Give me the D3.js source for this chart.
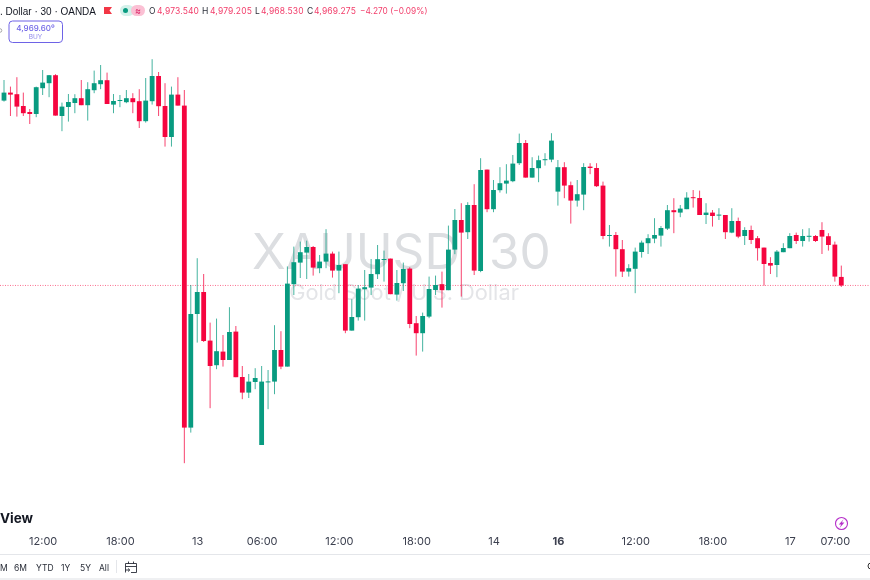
<!DOCTYPE html>
<html><head><meta charset="utf-8">
<style>html,body{margin:0;padding:0;background:#fff}svg{display:block;font-family:Inter,"Noto Sans",sans-serif}</style>
<script src="https://cdn.jsdelivr.net/npm/d3@7/dist/d3.min.js"></script></head><body>
<svg id="c" width="870" height="580"></svg>
<script>
const opens=[5061.7,5065.7,5064.9,5059,5056,5055,5067.9,5070.4,5074.4,5054,5058.5,5060.5,5062.9,5059.4,5066.9,5069.9,5071.9,5059.7,5061.5,5060.9,5062.9,5061.4,5051.4,5061.4,5074,5059,5043.5,5064.7,5059.2,4898.2,4955,4966,4941.7,4929.4,4936.2,4932,4946.2,4923.5,4915.7,4921,4889.5,4921,4921.2,4937,4928.7,4969.9,4980.7,4985.7,4988.5,4977.9,4981.2,4985.2,4976.7,4979.9,4946.7,4953.4,4967.4,4968.2,4974.9,4982.3,4982.7,4964.7,4970.4,4977.7,4950.4,4945.4,4953.7,4967,4969.9,4966.9,4987.2,5002,4995.9,5009.5,4976.5,5027.2,5007.4,5016.9,5020.2,5021.4,5030.4,5040.5,5023.2,5027.9,5031.9,5032.2,5016.2,5028.4,5019.4,5011.7,5014.7,5028.7,5028,5019.2,4994.3,4994.5,4987.4,4976.2,4977.6,4986,4990.4,4992.7,4994.2,4997.7,5006.9,5005.7,5007.4,5013.4,5013,5004.5,5005.7,5004.5,5004.5,4995.7,5001.5,4994,4997,4992.9,4988.2,4980.5,4979.5,4985.9,4987.9,4994.5,4991.5,4993.9,4994,4997,4993.9,4989.7,4973.54];
const highs=[5072,5068.7,5073.4,5065.7,5057.5,5068.7,5077,5074.5,5074.9,5060.7,5065,5064.9,5072,5070.9,5076.7,5079.5,5075.7,5065,5064.5,5067,5065.4,5067.4,5073,5082.4,5076,5070.4,5068.7,5073.4,5067,4969.5,4982.9,4975,4950.7,4952.7,4944.5,4958.4,4949,4929,4925,4927.9,4929,4927,4949.4,4946.4,4978.8,4988.7,4991.2,4991.7,4989,4984.5,4997.4,4986.2,4986.2,4979.9,4962.4,4969.5,4977,4982.5,4989.5,4986.7,4982.7,4977,4980.7,4978.4,4954,4955.7,4973.7,4974.2,4976.2,4999.2,5007.5,5010.4,5010.9,5019.9,5032.9,5027.2,5022,5028.4,5029.9,5034.5,5045.2,5042,5033.4,5034.2,5035.4,5045.4,5032,5030.9,5021.2,5022,5030.4,5030.4,5030.4,5021.2,4999.5,4996,4992,4979.9,4988.2,4991.7,4994.9,5002.9,4999,5009.5,5012.9,5009.5,5015.9,5017,5016.7,5010.4,5007,5007.9,5004.5,5007.9,5003.2,4998.4,4999.2,4994,4988.2,4983.4,4987,4990.4,4995.4,4995.7,4997.4,4997.9,4994.5,5000.9,4995.4,4991.2,4979.205];
const lows=[5061.2,5054,5053.7,5054,5050,5053.4,5064.5,5063.4,5054.2,5046.4,5051.2,5055.4,5059.4,5051.7,5065.4,5067.4,5060,5055.4,5058.4,5060.4,5055.4,5048,5050.7,5059.7,5054,5038.7,5038.7,5059.2,4880.4,4895.7,4940.7,4941,4907.9,4927.4,4928.7,4932,4923.4,4912.4,4913,4917.4,4889.5,4907.4,4914.9,4927.4,4928.7,4964.5,4973,4972.5,4974.2,4975.4,4977.9,4973.2,4965.4,4945.4,4946.7,4951.7,4951.7,4964.5,4972.5,4971.2,4964.9,4961.7,4966.5,4947.9,4934.2,4936.2,4952.9,4964.5,4958.2,4966.9,4984.9,4963.7,4992.5,4974.5,4975.9,5005.9,5005.9,5015.7,5015.2,5020.9,5029.5,5023.2,5023.2,5020.9,5029.2,5030.9,5009.2,5012.9,5000.2,5008.7,5006.9,5024.9,5018.5,4992.4,4988.7,4973.7,4973.5,4973.7,4965.4,4983.2,4985,4990.4,4988.7,4997,4995.4,5003.4,5007.4,5008.2,5004.5,5000,4998.7,5002,4992.5,4995.4,4992.9,4989.5,4990,4981.7,4969.2,4975,4973.4,4985.9,4987.9,4990,4988.7,4991.2,4991,4985,4986.7,4971.2,4968.53];
const closes=[5065.7,5064.7,5058.7,5055.4,5055,5068.4,5070.7,5074.4,5054.2,5058.7,5061,5062.9,5059.4,5067.4,5070.4,5071.9,5060,5061.5,5062,5062.9,5060.9,5051.4,5061.7,5074,5058.9,5043.5,5064.7,5059.2,4898.2,4955,4966,4941.5,4929,4936.4,4932,4946,4923.4,4915.7,4921.2,4923,4921.2,4921.3,4937,4928.7,4970.2,4980.9,4985.9,4988.5,4978.2,4981.2,4985.2,4976.7,4979.5,4946.7,4953.5,4967.7,4968.4,4975,4982.4,4982.5,4964.9,4970.5,4977.5,4950,4945.4,4954,4967.5,4969.5,4966.9,4987.2,5002,4995.7,5009.5,4976.7,5027,5007.4,5017,5020.4,5021.7,5030.2,5040.5,5023.2,5028,5031.9,5032.4,5041.7,5028.4,5019.2,5011.7,5014.9,5028.5,5028,5018.9,4994,4994.5,4987.4,4976.2,4977.9,4986.2,4990.7,4992.9,4994.5,4998,5006.9,5005.9,5007.7,5013.2,5013,5004.5,5005.7,5004,5004.7,4995.9,5001.5,4993.7,4997,4992,4987.9,4980,4979.2,4986.2,4988,4994,4991.5,4994,4994.1,4991.5,4993.7,4989.5,4973.7,4969.275];
const tickIndex=[6,18,30,40,52,64,76,86,98,110,122,129];
const tickLabels=["12:00","18:00","13","06:00","12:00","18:00","14","16","12:00","18:00","17","07:00"];
const rangeLabels=["M","6M","YTD","1Y","5Y","All"];
const ohlcKeys=["O","H","L","C"];
const ohlcValues=["4,973.540","4,979.205","4,968.530","4,969.275"];

const GREEN="#089b80",RED="#f5053f";
const svg=d3.select("#c");
const x=d3.scaleLinear().domain([0,130]).range([4,841.3]);
const y=d3.scaleLinear().domain([5112,4822]).range([0,580]);
const last=closes[closes.length-1];

// watermark
svg.append("text").attr("x",252).attr("y",269).attr("font-size",49.5).attr("word-spacing",15).attr("fill","#dcdee1").attr("font-family","Inter,sans-serif").text("XAUUSD 30");
svg.append("text").attr("x",404).attr("y",300).attr("text-anchor","middle").attr("font-size",21.8).attr("fill","#e4e5e8").attr("font-family","Inter,sans-serif").text("Gold Spot / U.S. Dollar");

// last price line
svg.append("line").attr("x1",0).attr("x2",870).attr("y1",y(last)).attr("y2",y(last)).attr("stroke","#fb6f8e").attr("stroke-width",1).attr("stroke-dasharray","1 1.5");

// candles
const idx=d3.range(opens.length);
const g=svg.append("g");
g.selectAll("line.w").data(idx).join("line").attr("class","w")
 .attr("x1",i=>x(i)).attr("x2",i=>x(i)).attr("y1",i=>y(highs[i])).attr("y2",i=>y(lows[i]))
 .attr("stroke",i=>closes[i]>=opens[i]?GREEN:RED).attr("stroke-width",1).attr("opacity",.75);
g.selectAll("rect.b").data(idx).join("rect").attr("class","b")
 .attr("x",i=>x(i)-2.4).attr("width",4.8)
 .attr("y",i=>Math.min(y(opens[i]),y(closes[i])))
 .attr("height",i=>Math.max(1,Math.abs(y(opens[i])-y(closes[i]))))
 .attr("fill",i=>closes[i]>=opens[i]?GREEN:RED);

// header
svg.append("text").attr("x",0).attr("y",15).attr("font-size",11.5).attr("textLength",96).attr("lengthAdjust","spacingAndGlyphs").attr("fill","#131722").attr("font-family","Liberation Sans,sans-serif").text(". Dollar · 30 · OANDA");
svg.append("path").attr("d","M104 7H112L109.5 10.5L112 14H104Z").attr("fill","#f23645");
svg.append("rect").attr("x",120).attr("y",5).attr("width",14).attr("height",11).attr("rx",5.5).attr("fill","#d3f1ea");
svg.append("rect").attr("x",131).attr("y",5).attr("width",14).attr("height",11).attr("rx",5.5).attr("fill","#fbc0d4");
svg.append("circle").attr("cx",125.5).attr("cy",10.5).attr("r",2.5).attr("fill",GREEN);
svg.append("text").attr("x",138).attr("y",14).attr("text-anchor","middle").attr("font-size",9).attr("fill","#d81b60").text("≈");
const ohlcX=[149,202,255,307],valX=[157,210,261,314];
ohlcKeys.forEach((k,i)=>{
 svg.append("text").attr("x",ohlcX[i]).attr("y",14).attr("font-size",8.5).attr("fill","#2a2e39").text(k);
 svg.append("text").attr("x",valX[i]).attr("y",14).attr("font-size",8.5).attr("letter-spacing",.15).attr("fill","#f23d6a").text(ohlcValues[i]);
});
svg.append("text").attr("x",360).attr("y",14).attr("font-size",8.3).attr("fill","#f23d6a").text("−4.270 (−0.09%)");

// buy button
svg.append("rect").attr("x",9).attr("y",21).attr("width",53.5).attr("height",21.5).attr("rx",3.5).attr("fill","#fff").attr("stroke","#6e63e6").attr("stroke-width",1);
svg.append("text").attr("x",35.5).attr("y",30.5).attr("text-anchor","middle").attr("font-size",8).attr("font-weight",500).attr("fill","#6e63e6").text("4,969.60⁰");
svg.append("text").attr("x",35.5).attr("y",39).attr("text-anchor","middle").attr("font-size",6.5).attr("fill","#8f88ec").text("BUY");
svg.append("circle").attr("cx",0).attr("cy",30.5).attr("r",1.8).attr("fill","none").attr("stroke","#888").attr("stroke-width",.7);

// brand
svg.append("text").attr("x",0).attr("y",523).attr("font-size",13.5).attr("font-weight",700).attr("fill","#131722").text("View");

// lightning
svg.append("circle").attr("cx",841.5).attr("cy",523.5).attr("r",6).attr("fill","none").attr("stroke","#b52fc9").attr("stroke-width",1.1);
svg.append("path").attr("d","M843.6 519.2L838.8 524.4H841.2L839.6 528L844.4 522.6H841.8Z").attr("fill","#b52fc9");

// time axis
const axis=d3.axisBottom(x).tickValues(tickIndex).tickSize(0).tickPadding(0).tickFormat((d,i)=>tickLabels[i]);
const ag=svg.append("g").attr("transform","translate(0,537)").call(axis);
ag.select(".domain").remove();
ag.selectAll("text").attr("font-size",11).attr("font-family","Inter,sans-serif").attr("fill","#3d4150")
 .attr("font-weight",d=>d===86?700:400);

// bottom bar
svg.append("line").attr("x1",0).attr("x2",870).attr("y1",554.5).attr("y2",554.5).attr("stroke","#e4e6ea");
svg.append("line").attr("x1",0).attr("x2",870).attr("y1",579).attr("y2",579).attr("stroke","#dfe1e5");
const rangeX=[0,14,36,61,80,99];
rangeLabels.forEach((t,i)=>svg.append("text").attr("x",rangeX[i]).attr("y",571).attr("font-size",8.5).attr("fill","#2a2e39").text(t));
svg.append("line").attr("x1",116.5).attr("x2",116.5).attr("y1",560).attr("y2",573).attr("stroke","#e4e6ea");
svg.append("path").attr("d","M125.5 572.5V563.5H136.5V572.5H131M125.5 566.5H136.5M128.5 561.5V564M133.5 561.5V564M125 570H129.5M128 568.5L129.8 570L128 571.5").attr("fill","none").attr("stroke","#2a2e39").attr("stroke-width",.9);
svg.append("circle").attr("cx",871).attr("cy",566).attr("r",3).attr("fill","none").attr("stroke","#333").attr("stroke-width",1);
svg.style("filter","blur(0.3px)");
</script></body></html>
